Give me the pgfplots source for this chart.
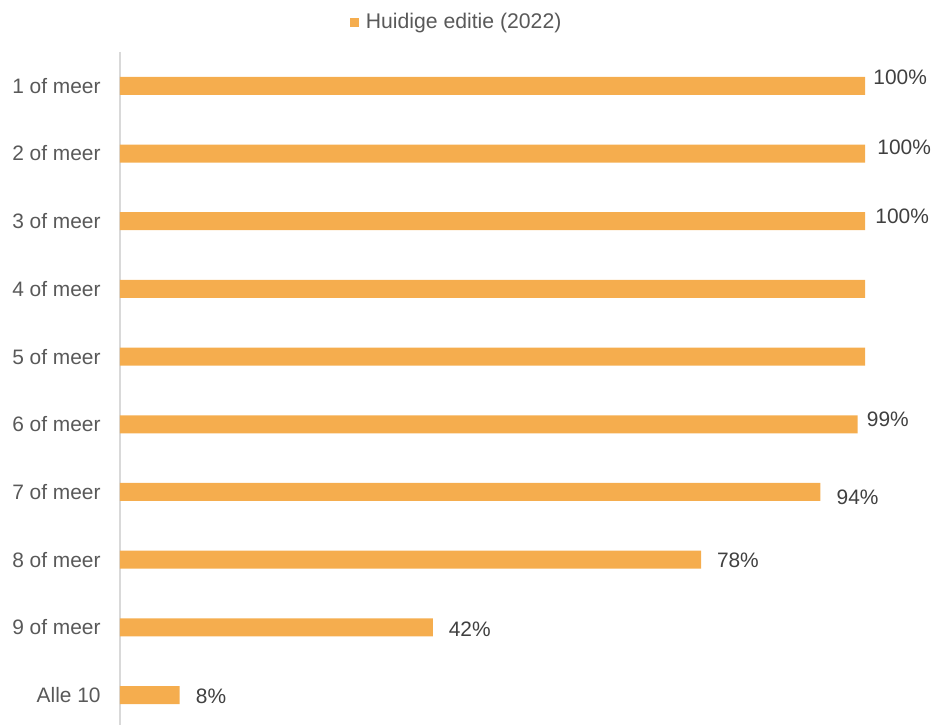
\documentclass[border=0pt]{standalone}
\usepackage{pgfplots}
\pgfplotsset{compat=1.18}
\usepackage{pgfplotstable}
\usepackage{fontspec}
\setmainfont{Liberation Sans}
\definecolor{barorange}{HTML}{F5AD4E}
\definecolor{labelgray}{HTML}{595959}
\definecolor{valgray}{HTML}{404040}
\definecolor{axisgray}{HTML}{D9D9D9}

% rows with a value label: y = category index, dx/dy = label offset in pt
\pgfplotstableread{
y x dx dy
0 100 4 4.25
1 100 6 3.25
2 100 5 2.25
5 99 4.5 2.5
6 94 8 -2.75
7 78 7.75 -0.5
8 42 7.75 -1
9 8 8 -0.4
}\labelled
% rows without a label
\pgfplotstableread{
y x
3 100
4 100
}\plain

\begin{document}
\begin{tikzpicture}
\useasboundingbox (0,0) rectangle (466.5pt,362.5pt);
\begin{axis}[
    at={(60pt,0pt)}, anchor=south west,
    scale only axis, width=372.5pt, height=336.5pt,
    xmin=0, xmax=100, ymin=-0.5, ymax=9.443,
    y dir=reverse, clip=false,
    /pgf/number format/assume math mode=true,
    xbar, bar width=9pt, bar shift=0pt,
    axis x line=none, axis y line=left,
    y axis line style={draw=axisgray, line width=0.75pt, -},
    ytick={0,...,9}, major tick length=0pt,
    yticklabels={1 of meer,2 of meer,3 of meer,4 of meer,5 of meer,6 of meer,7 of meer,8 of meer,9 of meer,Alle 10},
    yticklabel style={font=\fontsize{10.45}{12}\selectfont, text=labelgray, inner sep=0pt, anchor=east},
    yticklabel shift=9.5pt,
    legend style={draw=none, fill=none, at={(0.3087,1.0435)}, anchor=west,
        inner sep=0pt, font=\fontsize{10.6}{12}\selectfont, text=labelgray,
        nodes={inner sep=1.6pt}},
    legend image code/.code={\fill[barorange] (0pt,-2.25pt) rectangle (4.5pt,2.25pt);},
    legend style={/tikz/every odd column/.append style={column sep=1.6pt}},
]
\addplot[fill=barorange, draw=none,
    point meta=x,
    visualization depends on={\thisrow{dx} \as \dx},
    visualization depends on={\thisrow{dy} \as \dy},
    nodes near coords={\pgfmathprintnumber{\pgfplotspointmeta}\%},
    nodes near coords style={anchor=west, inner sep=0pt, text=valgray,
        font=\fontsize{10.45}{12}\selectfont, xshift=\dx pt, yshift=\dy pt},
] table[x=x, y=y] {\labelled};
\addlegendentry{Huidige editie (2022)}
\addplot[fill=barorange, draw=none, forget plot] table[x=x, y=y] {\plain};
\end{axis}
\end{tikzpicture}
\end{document}
